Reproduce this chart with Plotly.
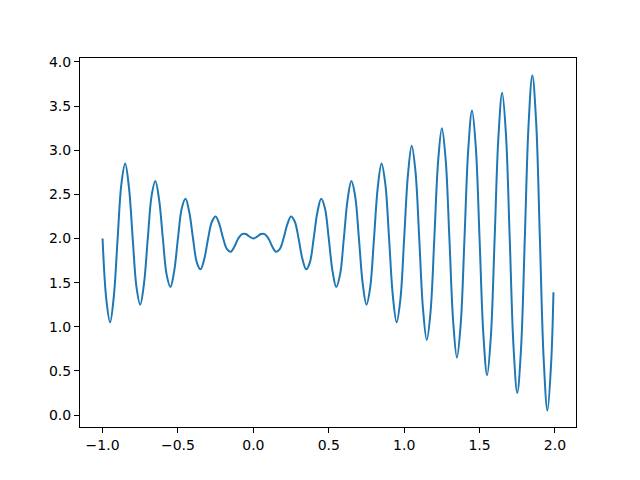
import plotly.graph_objects as go

# sampled readings of the curve
x_values = [
    -1.000, -0.975, -0.950, -0.925, -0.900, -0.875, -0.850, -0.825,
    -0.800, -0.775, -0.750, -0.725, -0.700, -0.675, -0.650, -0.625,
    -0.600, -0.575, -0.550, -0.525, -0.500, -0.475, -0.450, -0.425,
    -0.400, -0.375, -0.350, -0.325, -0.300, -0.275, -0.250, -0.225,
    -0.200, -0.175, -0.150, -0.125, -0.100, -0.075, -0.050, -0.025,
    0.000, 0.025, 0.050, 0.075, 0.100, 0.125, 0.150, 0.175,
    0.200, 0.225, 0.250, 0.275, 0.300, 0.325, 0.350, 0.375,
    0.400, 0.425, 0.450, 0.475, 0.500, 0.525, 0.550, 0.575,
    0.600, 0.625, 0.650, 0.675, 0.700, 0.725, 0.750, 0.775,
    0.800, 0.825, 0.850, 0.875, 0.900, 0.925, 0.950, 0.975,
    1.000, 1.025, 1.050, 1.075, 1.100, 1.125, 1.150, 1.175,
    1.200, 1.225, 1.250, 1.275, 1.300, 1.325, 1.350, 1.375,
    1.400, 1.425, 1.450, 1.475, 1.500, 1.525, 1.550, 1.575,
    1.600, 1.625, 1.650, 1.675, 1.700, 1.725, 1.750, 1.775,
    1.800, 1.825, 1.850, 1.875, 1.900, 1.925, 1.950, 1.975,
    1.990,
]
y_values = [
    2.00, 1.31, 1.05, 1.35, 2.00, 2.62, 2.85, 2.58,
    2.00, 1.45, 1.25, 1.49, 2.00, 2.48, 2.65, 2.44,
    2.00, 1.59, 1.45, 1.63, 2.00, 2.34, 2.45, 2.30,
    2.00, 1.73, 1.65, 1.77, 2.00, 2.19, 2.25, 2.16,
    2.00, 1.88, 1.85, 1.91, 2.00, 2.05, 2.05, 2.02,
    2.00, 2.02, 2.05, 2.05, 2.00, 1.91, 1.85, 1.88,
    2.00, 2.16, 2.25, 2.19, 2.00, 1.77, 1.65, 1.73,
    2.00, 2.30, 2.45, 2.34, 2.00, 1.63, 1.45, 1.59,
    2.00, 2.44, 2.65, 2.48, 2.00, 1.49, 1.25, 1.45,
    2.00, 2.58, 2.85, 2.62, 2.00, 1.35, 1.05, 1.31,
    2.00, 2.72, 3.05, 2.76, 2.00, 1.20, 0.85, 1.17,
    2.00, 2.87, 3.25, 2.90, 2.00, 1.06, 0.65, 1.03,
    2.00, 3.01, 3.45, 3.04, 2.00, 0.92, 0.45, 0.89,
    2.00, 3.15, 3.65, 3.18, 2.00, 0.78, 0.25, 0.75,
    2.00, 3.29, 3.85, 3.33, 2.00, 0.64, 0.05, 0.60,
    1.39,
]
x_ticks = [-1.0, -0.5, 0.0, 0.5, 1.0, 1.5, 2.0]
y_ticks = [0.0, 0.5, 1.0, 1.5, 2.0, 2.5, 3.0, 3.5, 4.0]

fig = go.Figure(go.Scatter(
    x=x_values, y=y_values, mode="lines",
    line=dict(color="#1f77b4", width=2, shape="spline", smoothing=1.0),
))

axis_style = dict(
    showgrid=False, zeroline=False, showline=True, mirror=True,
    linecolor="black", linewidth=1, ticks="outside", ticklen=5,
    tickwidth=1, tickcolor="black", tickformat=".1f",
    tickfont=dict(family="DejaVu Sans", size=14, color="black"),
)
fig.update_xaxes(range=[-1.1495, 2.1395], tickvals=x_ticks, **axis_style)
fig.update_yaxes(range=[-0.136, 4.045], tickvals=y_ticks, **axis_style)

# page body adds an 8px offset, so the margins are shifted to compensate
fig.update_layout(
    width=640, height=480,
    margin=dict(l=72, r=72, t=50, b=61),
    paper_bgcolor="white", plot_bgcolor="white",
    showlegend=False,
)

fig.write_html("out.html")
